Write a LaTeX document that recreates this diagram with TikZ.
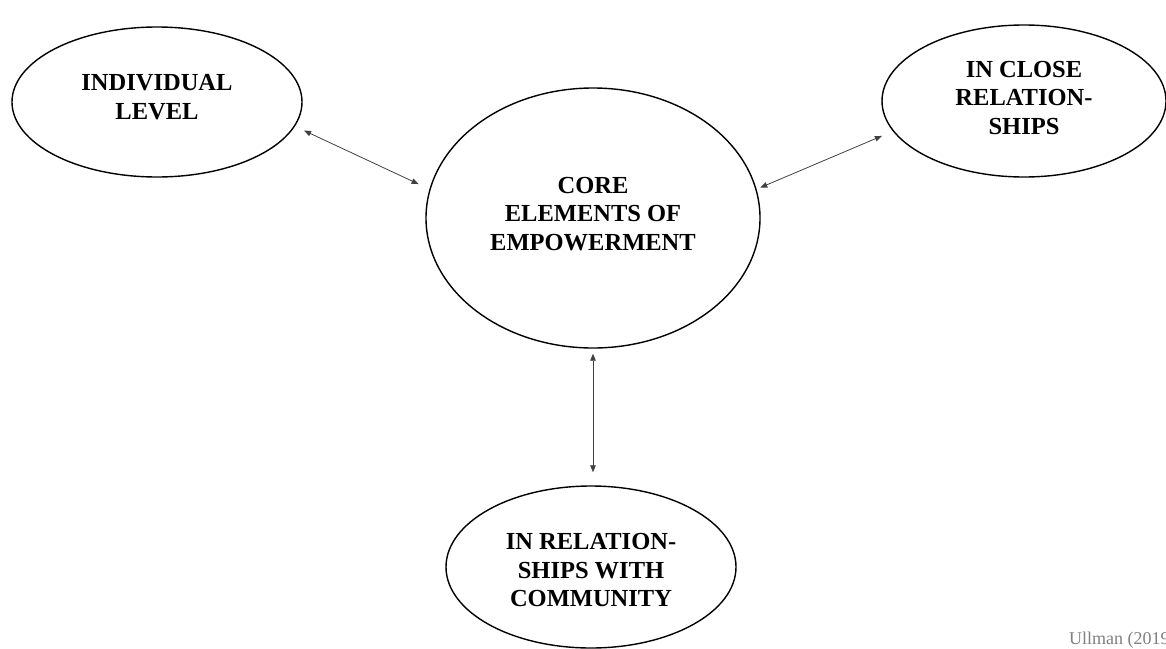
\documentclass[tikz,border=0pt]{standalone}
\usepackage{fontspec}
\setmainfont{Liberation Serif}
\usetikzlibrary{shapes.geometric,arrows.meta}
\begin{document}
\begin{tikzpicture}[x=1pt,y=-1pt,
  bubble/.style={draw=black, line width=1.4pt, ellipse, inner sep=0pt},
  caption/.style={align=center, inner sep=0pt,
    font=\fontsize{24.5}{28.5}\selectfont\bfseries},
  link/.style={draw=black!75, line width=0.8pt,
    {Triangle[length=7pt,width=5.5pt]}-{Triangle[length=7pt,width=5.5pt]}}]
  \useasboundingbox (0,0) rectangle (1166,648);
  \clip (0,0) rectangle (1166,648);

  % the four levels
  \node[bubble, minimum width=290pt, minimum height=150pt,
    label={[caption, yshift=5pt]center:INDIVIDUAL\\LEVEL}] (L) at (157,102) {};
  \node[bubble, minimum width=284pt, minimum height=152pt,
    label={[caption, yshift=3pt]center:IN CLOSE\\RELATION-\\SHIPS}] (R) at (1024,101) {};
  \node[bubble, minimum width=334pt, minimum height=260pt,
    label={[caption, yshift=4pt]center:CORE\\ELEMENTS OF\\EMPOWERMENT}] (C) at (593,218) {};
  \node[bubble, minimum width=290pt, minimum height=162pt,
    label={[caption, yshift=-3pt]center:IN RELATION-\\SHIPS WITH\\COMMUNITY}] (B) at (591,567) {};

  % two-way links to the core
  \draw[link, shorten <=10pt, shorten >=12pt] (L.-10.5) -- (C.170.6);
  \draw[link, shorten <=4pt, shorten >=12pt] (C.10.2) -- (R.193.1);
  \draw[link, shorten <=5pt, shorten >=13pt] (C.south) -- (C.south |- B.north);

  % source
  \node[anchor=base west, inner sep=0pt, text=black!50,
    font=\fontsize{18}{20}\selectfont] (src) at (1069,644) {Ullman (2019)};
\end{tikzpicture}
\end{document}
